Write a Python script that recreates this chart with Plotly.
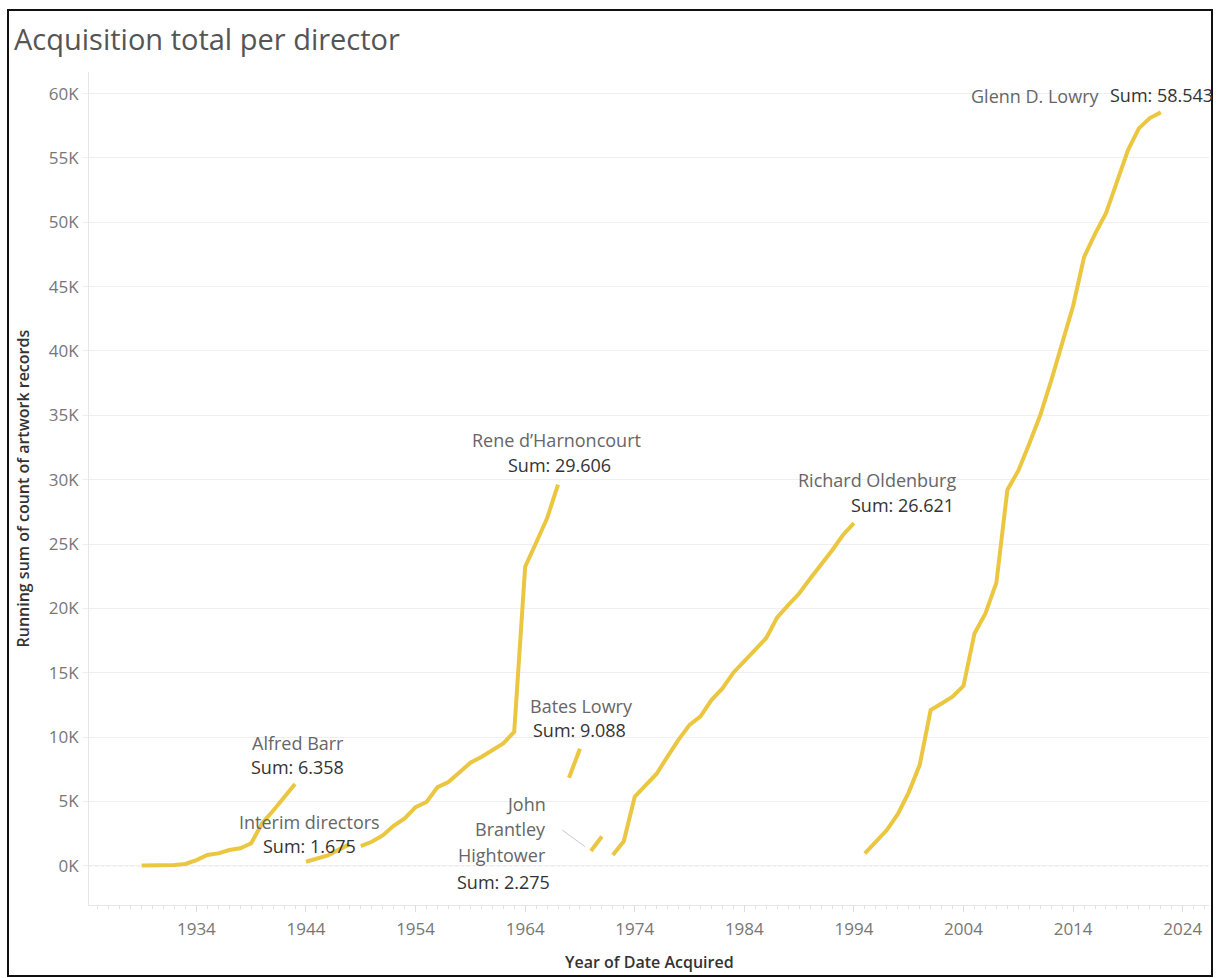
import plotly.graph_objects as go

# Running sum of acquired artwork records, one series per museum director
barr_years = list(range(1929, 1944))
barr_vals = [10, 20, 30, 60, 140, 440, 830, 960, 1220, 1350, 1740, 3300, 4270, 5260, 6358]

interim_years = list(range(1944, 1949))
interim_vals = [310, 570, 800, 1250, 1675]

rene_years = list(range(1949, 1968))
rene_vals = [1530, 1860, 2350, 3100, 3680, 4550, 4950, 6100, 6500, 7250,
             8000, 8450, 9000, 9500, 10400, 23230, 25100, 27000, 29606]

bates_years = [1968, 1969]
bates_vals = [6840, 9088]

hightower_years = [1970, 1971]
hightower_vals = [1140, 2275]

oldenburg_years = list(range(1972, 1995))
oldenburg_vals = [830, 1900, 5360, 6300, 7150, 8500, 9800, 10950, 11600, 12870,
                  13780, 15000, 15950, 16800, 17700, 19300, 20250, 21150, 22300,
                  23350, 24500, 25700, 26621]

glenn_years = list(range(1995, 2023))
glenn_vals = [960, 1870, 2770, 4000, 5700, 7820, 12100, 12600, 13130, 13980,
              18050, 19600, 22000, 29200, 30700, 32800, 35000, 37700, 40500,
              43500, 47300, 49100, 50700, 53200, 55600, 57300, 58100, 58543]

y_tick_vals = [0, 5000, 10000, 15000, 20000, 25000, 30000, 35000, 40000, 45000, 50000, 55000, 60000]
y_tick_text = ["0K", "5K", "10K", "15K", "20K", "25K", "30K", "35K", "40K", "45K", "50K", "55K", "60K"]

series = [
    ("Alfred Barr", barr_years, barr_vals),
    ("Interim directors", interim_years, interim_vals),
    ("Rene d’Harnoncourt", rene_years, rene_vals),
    ("Bates Lowry", bates_years, bates_vals),
    ("John Brantley Hightower", hightower_years, hightower_vals),
    ("Richard Oldenburg", oldenburg_years, oldenburg_vals),
    ("Glenn D. Lowry", glenn_years, glenn_vals),
]

# label placement: pixel offsets from each series' last point
# (name lines, name anchor, name dx, name dy per line, sum anchor, sum dx, sum dy)
label_layout = {
    "Alfred Barr": (["Alfred Barr"], "center", 3, [41], "center", 2, 17),
    "Interim directors": (["Interim directors"], "center", -40, [22], "center", -40, -2),
    "Rene d’Harnoncourt": (["Rene d’Harnoncourt"], "center", -2, [45], "center", 1, 20),
    "Bates Lowry": (["Bates Lowry"], "center", 2, [43], "center", 0, 19),
    "John Brantley Hightower": (["John", "Brantley", "Hightower"], "right", -54, [32, 7, -19], "right", -50, -46),
    "Richard Oldenburg": (["Richard Oldenburg"], "center", 23, [43], "center", 49, 18),
    "Glenn D. Lowry": (["Glenn D. Lowry"], "center", -126, [16], "center", 1, 17),
}

LINE_COLOR = "#EBC640"
FONT = "Open Sans"
NAME_COLOR = "#666666"
SUM_COLOR = "#333333"
LABEL_SIZE = 18

W, H = 1217, 978
ML, MR, MT, MB = 89, 8, 72, 73
PW, PH = W - ML - MR, H - MT - MB


def px_x(p):
    return (p - ML) / PW


def px_y(p):
    return 1 - (p - MT) / PH


fig = go.Figure()
annotations = []

for name, xs, ys in series:
    fig.add_trace(go.Scatter(
        x=xs, y=ys, mode="lines", name=name,
        line=dict(color=LINE_COLOR, width=4),
        hovertemplate=name + "<br>%{x}: %{y:,}<extra></extra>",
        showlegend=False,
    ))
    lines, n_anchor, n_dx, n_dys, s_anchor, s_dx, s_dy = label_layout[name]
    x_end, y_end = xs[-1], ys[-1]
    for text, dy in zip(lines, n_dys):
        annotations.append(dict(
            x=x_end, y=y_end, xref="x", yref="y", text=text, showarrow=False,
            xanchor=n_anchor, yanchor="middle", xshift=n_dx, yshift=dy,
            font=dict(family=FONT, size=LABEL_SIZE, color=NAME_COLOR),
        ))
    sum_text = "Sum: " + f"{y_end:,}".replace(",", ".")
    annotations.append(dict(
        x=x_end, y=y_end, xref="x", yref="y", text=sum_text, showarrow=False,
        xanchor=s_anchor, yanchor="middle", xshift=s_dx, yshift=s_dy,
        font=dict(family=FONT, size=LABEL_SIZE, color=SUM_COLOR),
    ))

# connector from the Hightower label to its line
annotations.append(dict(
    x=hightower_years[0], y=hightower_vals[0], xref="x", yref="y",
    text="", showarrow=True, arrowhead=0, arrowwidth=1, arrowcolor="#c8c8c8",
    ax=-30, ay=-22, standoff=7,
))

# axis titles
annotations.append(dict(
    x=px_x(22), y=0.5, xref="paper", yref="paper", textangle=-90,
    text="Running sum of count of artwork records", showarrow=False,
    xanchor="center", yanchor="middle",
    font=dict(family=FONT, size=16, color="#333333", weight=600),
))
annotations.append(dict(
    x=0.5, y=px_y(962), xref="paper", yref="paper",
    text="Year of Date Acquired", showarrow=False,
    xanchor="center", yanchor="middle",
    font=dict(family=FONT, size=16, color="#333333", weight=600),
))

shapes = [
    # dotted zero reference
    dict(type="line", xref="paper", yref="y", x0=0, x1=1, y0=0, y1=0,
         line=dict(color="#b8b8b8", width=1, dash="dot"), layer="below"),
    # outer frame
    dict(type="rect", xref="paper", yref="paper",
         x0=px_x(8), x1=px_x(1212), y0=px_y(976), y1=px_y(10),
         line=dict(color="#111111", width=2), layer="above"),
]

fig.update_layout(
    width=W, height=H,
    margin=dict(l=ML, r=MR, t=MT, b=MB),
    paper_bgcolor="white", plot_bgcolor="white",
    title=dict(text="Acquisition total per director", x=14 / W, xref="container",
               xanchor="left", y=1 - 40 / H, yref="container", yanchor="middle",
               font=dict(family=FONT, size=29, color="#555555")),
    annotations=annotations,
    shapes=shapes,
    showlegend=False,
    xaxis=dict(
        range=[1924.2, 2026.4], tick0=1934, dtick=10,
        showgrid=False, zeroline=False,
        showline=True, linecolor="#e6e6e6", linewidth=1, mirror=False,
        ticks="outside", ticklen=6, tickcolor="#dddddd",
        minor=dict(dtick=1, tick0=1934, ticks="outside", ticklen=3, tickcolor="#e2e2e2"),
        tickfont=dict(family=FONT, size=17, color="#777777"),
        ticklabelstandoff=3,
    ),
    yaxis=dict(
        range=[-3053, 61680],
        tickvals=y_tick_vals, ticktext=y_tick_text,
        showgrid=True, gridcolor="#efefef", gridwidth=1,
        zeroline=False,
        showline=True, linecolor="#e6e6e6", linewidth=1,
        ticks="outside", ticklen=6, tickcolor="#efefef",
        tickfont=dict(family=FONT, size=17, color="#777777"),
    ),
)

fig.write_html("out.html")
